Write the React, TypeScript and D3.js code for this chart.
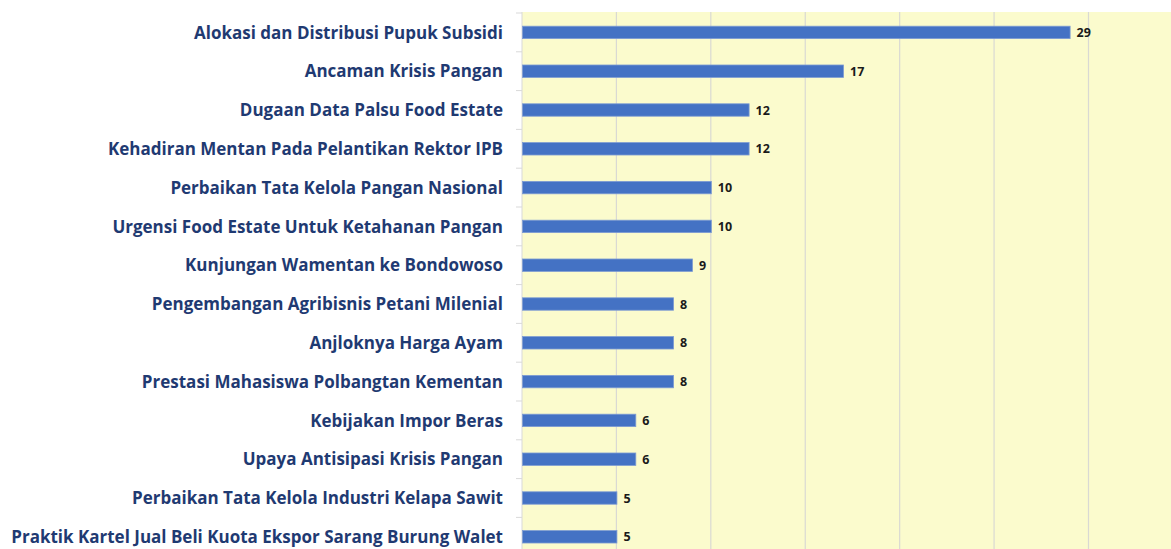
import { useEffect, useRef } from 'react';
import * as d3 from 'd3';

const categories = [
  'Alokasi dan Distribusi Pupuk Subsidi',
  'Ancaman Krisis Pangan',
  'Dugaan Data Palsu Food Estate',
  'Kehadiran Mentan Pada Pelantikan Rektor IPB',
  'Perbaikan Tata Kelola Pangan Nasional',
  'Urgensi Food Estate Untuk Ketahanan Pangan',
  'Kunjungan Wamentan ke Bondowoso',
  'Pengembangan Agribisnis Petani Milenial',
  'Anjloknya Harga Ayam',
  'Prestasi Mahasiswa Polbangtan Kementan',
  'Kebijakan Impor Beras',
  'Upaya Antisipasi Krisis Pangan',
  'Perbaikan Tata Kelola Industri Kelapa Sawit',
  'Praktik Kartel Jual Beli Kuota Ekspor Sarang Burung Walet',
];
const values = [29, 17, 12, 12, 10, 10, 9, 8, 8, 8, 6, 6, 5, 5];
const gridTicks = [5, 10, 15, 20, 25, 30];

export default function App() {
  const svgRef = useRef<SVGSVGElement>(null);

  useEffect(() => {
    if (!svgRef.current) return;
    const svg = d3.select(svgRef.current);
    svg.selectAll('*').remove();

    const width = 1171;
    const height = 549;
    const plotLeft = 522;
    const plotTop = 12;

    const x = d3.scaleLinear().domain([0, 30]).range([plotLeft, plotLeft + 566.5]);
    const y = d3.scaleBand<string>()
      .domain(categories)
      .range([plotTop + 1, plotTop + 1 + 38.8 * categories.length])
      .paddingInner(0.68)
      .paddingOuter(0.34);

    svg.attr('width', width).attr('height', height);

    svg.append('rect')
      .attr('width', width).attr('height', height).attr('fill', '#ffffff');

    // plot background
    svg.append('rect')
      .attr('x', plotLeft).attr('y', plotTop)
      .attr('width', width - plotLeft).attr('height', height - plotTop)
      .attr('fill', '#fbfbcd');

    // gridlines
    svg.append('g')
      .selectAll('line')
      .data(gridTicks)
      .join('line')
      .attr('x1', d => x(d)).attr('x2', d => x(d))
      .attr('y1', plotTop).attr('y2', height)
      .attr('stroke', '#d9d9d3')
      .attr('stroke-width', 1.2);

    // left axis line + ticks between categories
    svg.append('line')
      .attr('x1', plotLeft).attr('x2', plotLeft)
      .attr('y1', plotTop).attr('y2', height)
      .attr('stroke', '#d9d9d9');
    const step = y.step();
    svg.append('g')
      .selectAll('line')
      .data(d3.range(categories.length + 1))
      .join('line')
      .attr('x1', plotLeft - 6).attr('x2', plotLeft)
      .attr('y1', i => plotTop + 1 + i * step).attr('y2', i => plotTop + 1 + i * step)
      .attr('stroke', '#d9d9d9');

    // bars
    svg.append('g')
      .selectAll('rect')
      .data(values)
      .join('rect')
      .attr('x', plotLeft + 0.5)
      .attr('y', (_, i) => y(categories[i])!)
      .attr('width', d => x(d) - plotLeft)
      .attr('height', y.bandwidth())
      .attr('fill', '#4472c4')
      .attr('stroke', '#7d9bd3')
      .attr('stroke-width', 0.8);

    // value labels
    svg.append('g')
      .selectAll('text')
      .data(values)
      .join('text')
      .attr('x', d => x(d) + 7)
      .attr('y', (_, i) => y(categories[i])! + y.bandwidth() / 2)
      .attr('dy', '0.36em')
      .attr('font-family', '"Open Sans", "Noto Sans", sans-serif')
      .attr('font-weight', 700)
      .attr('font-size', 12.5)
      .attr('fill', '#1a1a1a')
      .text(d => d);

    // category labels
    svg.append('g')
      .selectAll('text')
      .data(categories)
      .join('text')
      .attr('x', 503)
      .attr('y', d => y(d)! + y.bandwidth() / 2)
      .attr('dy', '0.36em')
      .attr('text-anchor', 'end')
      .attr('font-family', '"Open Sans", "Noto Sans", sans-serif')
      .attr('font-weight', 700)
      .attr('font-size', 17)
      .attr('fill', '#1f3a72')
      .text(d => d);
  }, []);

  return (
    <div style={{ position: 'absolute', left: 0, top: 0 }}>
      <svg ref={svgRef}></svg>
    </div>
  );
}
